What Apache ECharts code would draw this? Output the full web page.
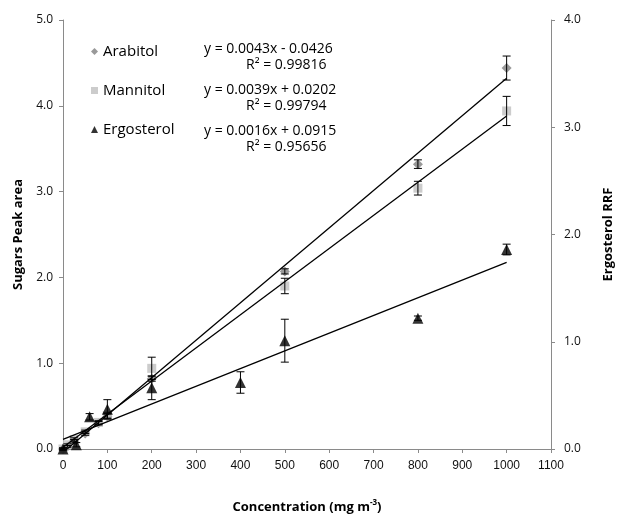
<!DOCTYPE html>
<html>
<head>
<meta charset="utf-8">
<script src="https://cdn.jsdelivr.net/npm/echarts@6/dist/echarts.min.js"></script>
<style>
  html, body { margin: 0; padding: 0; background: #fff; }
  #chart { width: 623px; height: 525px; }
</style>
</head>
<body>
<div id="chart"></div>
<script>
// sugars (left axis)
const sugarConc = [0, 10, 25, 50, 80, 100, 200, 500, 800, 1000];
const arabitol = [0.0, 0.03, 0.09, 0.18, 0.30, 0.38, 0.82, 2.07, 3.32, 4.44];
const arabitolErr = [0.01, 0.01, 0.02, 0.02, 0.02, 0.03, 0.03, 0.03, 0.05, 0.14];
const mannitol = [0.0, 0.05, 0.11, 0.20, 0.31, 0.39, 0.94, 1.90, 3.04, 3.94];
const mannitolErr = [0.01, 0.01, 0.02, 0.02, 0.02, 0.03, 0.13, 0.09, 0.08, 0.17];

// ergosterol (right axis)
const ergoConc = [0, 30, 60, 100, 200, 400, 500, 800, 1000];
const ergosterol = [0.0, 0.04, 0.30, 0.37, 0.57, 0.62, 1.01, 1.22, 1.86];
const ergosterolErr = [0.01, 0.02, 0.03, 0.09, 0.11, 0.10, 0.20, 0.02, 0.05];

// trend line end points
const arabitolFit = [[0, -0.04], [1000, 4.32]];
const mannitolFit = [[0, 0.02], [1000, 3.88]];
const ergosterolFit = [[0, 0.09], [1000, 1.74]];

const equations = ['y = 0.0043x - 0.0426', 'y = 0.0039x + 0.0202', 'y = 0.0016x + 0.0915'];
const rSquared = ['R\u00b2 = 0.99816', 'R\u00b2 = 0.99794', 'R\u00b2 = 0.95656'];

const pts = (xs, ys) => xs.map((x, i) => [x, ys[i]]);
const bars = (xs, ys, es) => xs.map((x, i) => [x, ys[i] - es[i], ys[i] + es[i]]);

function errorBar(params, api) {
  const x = api.value(0);
  const lo = api.coord([x, api.value(1)]);
  const hi = api.coord([x, api.value(2)]);
  const w = 4;
  const st = { stroke: '#000', lineWidth: 1 };
  return {
    type: 'group',
    children: [
      { type: 'line', shape: { x1: lo[0], y1: lo[1], x2: hi[0], y2: hi[1] }, style: st },
      { type: 'line', shape: { x1: lo[0] - w, y1: lo[1], x2: lo[0] + w, y2: lo[1] }, style: st },
      { type: 'line', shape: { x1: hi[0] - w, y1: hi[1], x2: hi[0] + w, y2: hi[1] }, style: st }
    ]
  };
}

const chart = echarts.init(document.getElementById('chart'));

const eqGraphics = [];
equations.forEach((t, i) => {
  eqGraphics.push({
    type: 'text', left: 204, top: 42 + i * 41,
    style: { text: t, font: '14px "Open Sans"', fill: '#000' }
  });
  eqGraphics.push({
    type: 'text', left: 246, top: 58 + i * 41,
    style: { text: rSquared[i], font: '14px "Open Sans"', fill: '#000' }
  });
});

const axisTitle = { fontFamily: 'Open Sans', fontWeight: 'bold', fontSize: 13, color: '#000' };

chart.setOption({
  animation: false,
  grid: { left: 63, right: 56, top: 20, bottom: 76 },
  legend: {
    orient: 'vertical',
    left: 86, top: 39,
    itemGap: 24,
    itemWidth: 7, itemHeight: 7,
    textStyle: { fontFamily: 'Open Sans', fontSize: 15, color: '#000' },
    data: ['Arabitol', 'Mannitol', 'Ergosterol']
  },
  graphic: eqGraphics,
  xAxis: {
    type: 'value', min: 0, max: 1100, interval: 100,
    name: 'Concentration (mg m{sup|-3})',
    nameLocation: 'middle', nameGap: 50,
    nameTextStyle: Object.assign({}, axisTitle, {
      rich: { sup: { fontFamily: 'Open Sans', fontWeight: 'bold', fontSize: 8, verticalAlign: 'top', padding: [0, 0, 8, 0], color: '#000' } }
    }),
    splitLine: { show: false },
    axisLine: { lineStyle: { color: '#8a8a8a' } },
    axisTick: { lineStyle: { color: '#8a8a8a' }, length: 4 },
    axisLabel: { fontFamily: 'Liberation Sans', fontSize: 12, color: '#111', margin: 11, formatter: v => String(v) }
  },
  yAxis: [{
    type: 'value', min: 0, max: 5, interval: 1,
    name: 'Sugars Peak area', nameLocation: 'middle', nameGap: 37, nameRotate: 90,
    nameTextStyle: axisTitle,
    splitLine: { show: false },
    axisLine: { show: true, lineStyle: { color: '#8a8a8a' } },
    axisTick: { show: true, lineStyle: { color: '#8a8a8a' }, length: 4 },
    axisLabel: { fontFamily: 'Open Sans', fontSize: 12, color: '#111', margin: 10, formatter: v => v.toFixed(1) }
  }, {
    type: 'value', min: 0, max: 4, interval: 1, position: 'right',
    name: 'Ergosterol RRF', nameLocation: 'middle', nameGap: 51, nameRotate: 90,
    nameTextStyle: axisTitle,
    splitLine: { show: false },
    axisLine: { show: true, lineStyle: { color: '#8a8a8a' } },
    axisTick: { show: true, lineStyle: { color: '#8a8a8a' }, length: 4 },
    axisLabel: { fontFamily: 'Open Sans', fontSize: 12, color: '#111', margin: 13, formatter: v => v.toFixed(1) }
  }],
  series: [
    { name: 'Arabitol', type: 'scatter', yAxisIndex: 0, symbol: 'diamond', symbolSize: 10,
      itemStyle: { color: '#7f7f7f' }, data: pts(sugarConc, arabitol), z: 3 },
    { name: 'Mannitol', type: 'scatter', yAxisIndex: 0, symbol: 'rect', symbolSize: 9,
      itemStyle: { color: '#bfbfbf' }, data: pts(sugarConc, mannitol), z: 3 },
    { name: 'Ergosterol', type: 'scatter', yAxisIndex: 1, symbol: 'triangle', symbolSize: 11,
      itemStyle: { color: '#000' }, data: pts(ergoConc, ergosterol), z: 3 },
    { type: 'custom', yAxisIndex: 0, renderItem: errorBar, data: bars(sugarConc, arabitol, arabitolErr), z: 4 },
    { type: 'custom', yAxisIndex: 0, renderItem: errorBar, data: bars(sugarConc, mannitol, mannitolErr), z: 4 },
    { type: 'custom', yAxisIndex: 1, renderItem: errorBar, data: bars(ergoConc, ergosterol, ergosterolErr), z: 4 },
    { type: 'line', yAxisIndex: 0, data: arabitolFit, symbol: 'none', clip: true,
      lineStyle: { color: '#000', width: 1.3 }, z: 5 },
    { type: 'line', yAxisIndex: 0, data: mannitolFit, symbol: 'none', clip: true,
      lineStyle: { color: '#000', width: 1.3 }, z: 5 },
    { type: 'line', yAxisIndex: 1, data: ergosterolFit, symbol: 'none', clip: true,
      lineStyle: { color: '#000', width: 1.3 }, z: 5 }
  ]
});
</script>
</body>
</html>
